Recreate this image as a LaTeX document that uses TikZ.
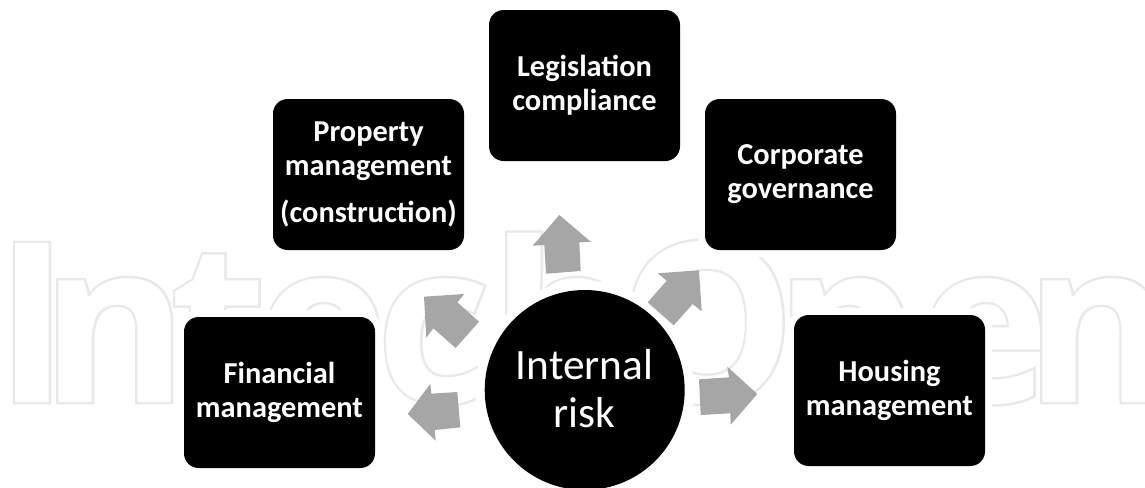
\documentclass[tikz,border=0pt]{standalone}
\usepackage{fontspec}
\setmainfont{Carlito}
\newfontfamily\wmfont[FakeBold=2.2]{Open Sans Bold}
\newfontfamily\wmfontin{Open Sans Bold}
\definecolor{wmgray}{RGB}{232,234,234}
\definecolor{arrowgray}{RGB}{166,166,166}
\tikzset{
  riskbox/.style={fill=black,preaction={draw=white,line width=10.5pt},rounded corners=11pt,minimum width=143.25pt,minimum height=113.25pt,text=white,align=center,font=\fontsize{22.8}{25.5}\selectfont\bfseries,inner sep=0pt},
  riskhub/.style={circle,fill=black,preaction={draw=white,line width=14pt},minimum size=150pt,text=white,align=center,font=\fontsize{32.5}{36}\selectfont,inner sep=0pt},
  blockarrow/.style={fill=arrowgray,draw=none},
  wmout/.style={anchor=base west,inner sep=0pt,text=wmgray,font=\wmfont\fontsize{167}{167}\selectfont},
  wmin/.style={anchor=base west,inner sep=0pt,text=white,font=\wmfontin\fontsize{167}{167}\selectfont}
}
\newcommand{\wmletter}[4]{%
  \node[wmout,xscale=#3] (wa#4) at (#1,402) {#2};
  \node[wmin,xscale=#3] (wb#4) at (#1,402) {#2};
}
\begin{document}
\begin{tikzpicture}[x=0.75pt,y=-0.75pt]
\useasboundingbox (0,0) rectangle (1145,487);
\clip (0,0) rectangle (1145,487);
\wmletter{-5}{I}{1}{a}
\wmletter{41}{n}{1}{b}
\wmletter{170}{t}{1}{c}
\wmletter{256}{e}{1}{d}
\wmletter{376}{c}{1}{e}
\wmletter{490}{h}{1}{f}
\wmletter{618}{O}{1}{g}
\wmletter{775}{p}{1}{h}
\wmletter{918}{e}{1}{i}
\wmletter{1025}{n}{1}{j}
\node[riskbox] (fin) at (279.5,392.5) {Financial\\management};
\node[riskbox] (hou) at (889.5,390.5) {Housing\\management};
\node[riskbox] (pro) at (368.5,174.5) {Property\\management\\[9.4pt](construction)};
\node[riskbox] (leg) at (584.5,85.5) {Legislation\\compliance};
\node[riskbox] (cor) at (800.5,174.5) {Corporate\\governance};
\node[riskhub] (hub) at (584.7,390) {Internal\\risk\rule[-3pt]{0pt}{3pt}};
\fill[blockarrow] (559.3,215) -- (590.7,241.7) -- (579.3,242.3) -- (580.7,271) -- (546,273.7) -- (544.3,245) -- (532.7,245.7) -- cycle;
\fill[blockarrow] (424,296.7) -- (464.3,294) -- (457.3,302.3) -- (479,321.7) -- (455.7,348) -- (433.3,328.3) -- (426.3,337.7) -- cycle;
\fill[blockarrow] (407.7,414) -- (430.3,384) -- (431.3,393.7) -- (457.3,392) -- (460.3,427.3) -- (434.7,430) -- (435.7,440.7) -- cycle;
\fill[blockarrow] (699,270.3) -- (701.7,311.3) -- (692.7,304) -- (673.7,325.3) -- (647.7,302.3) -- (666.7,280.7) -- (657.7,273.3) -- cycle;
\fill[blockarrow] (757.3,394) -- (727.3,366.7) -- (729,377.3) -- (699,379.3) -- (700.7,415) -- (730.3,413.3) -- (730.7,424.7) -- cycle;
\end{tikzpicture}
\end{document}
